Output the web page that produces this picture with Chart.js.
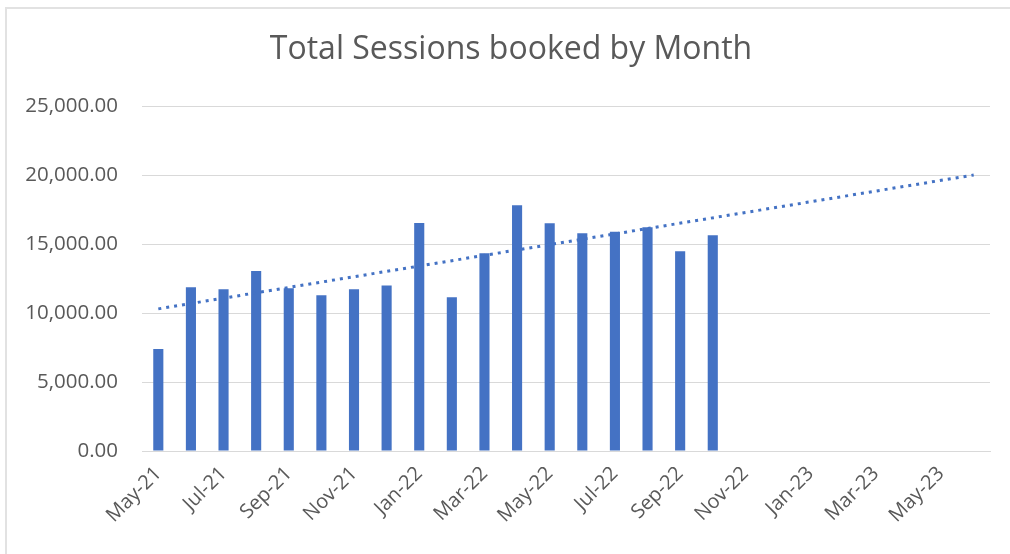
<!DOCTYPE html>
<html>
<head>
<meta charset="utf-8">
<script src="https://cdn.jsdelivr.net/npm/chart.js@4"></script>
<style>
  html, body { margin: 0; padding: 0; background: #fff; }
  #wrap { position: relative; width: 1010px; height: 554px; }
  #frame { position: absolute; left: 5px; top: 7px; right: 0; bottom: 0;
           border-left: 2px solid #e2e2e2; border-top: 2px solid #e2e2e2; }
  #title { position: absolute; left: 12px; right: 0; top: 28px; text-align: center;
           font: 32px 'Open Sans', sans-serif; line-height: 38px; color: #595959; }
  canvas { position: absolute; left: 0; top: 0; }
</style>
</head>
<body>
<div id="wrap">
  <div id="frame"></div>
  <canvas id="chart" width="1010" height="554"></canvas>
  <div id="title">Total Sessions booked by Month</div>
</div>
<script>
// months on the axis, May-21 .. Jun-23
const months = [
  'May-21', 'Jun-21', 'Jul-21', 'Aug-21', 'Sep-21', 'Oct-21', 'Nov-21', 'Dec-21',
  'Jan-22', 'Feb-22', 'Mar-22', 'Apr-22', 'May-22', 'Jun-22', 'Jul-22', 'Aug-22',
  'Sep-22', 'Oct-22', 'Nov-22', 'Dec-22', 'Jan-23', 'Feb-23', 'Mar-23', 'Apr-23',
  'May-23', 'Jun-23'
];

// sessions booked, May-21 .. Oct-22
const sessions = [
  7400, 11860, 11720, 13040, 11790, 11280, 11720, 12000, 16520,
  11140, 14330, 17800, 16500, 15780, 15890, 16210, 14470, 15630
];

// linear trend, first and last month
const trendStart = 10300;
const trendEnd = 20000;

const yTicks = [0, 5000, 10000, 15000, 20000, 25000];

const barData = months.map((m, i) => i < sessions.length ? sessions[i] : null);
const trendData = months.map((m, i) => i === 0 ? trendStart : (i === months.length - 1 ? trendEnd : null));

const blue = '#4472C4';
const grey = '#595959';
const font = "'Open Sans', sans-serif";

new Chart(document.getElementById('chart'), {
  type: 'bar',
  data: {
    labels: months,
    datasets: [
      {
        type: 'line',
        data: trendData,
        spanGaps: true,
        borderColor: blue,
        borderWidth: 3,
        borderDash: [3, 5],
        pointRadius: 0,
        order: 0
      },
      {
        data: barData,
        backgroundColor: blue,
        categoryPercentage: 1,
        barPercentage: 0.31,
        order: 1
      }
    ]
  },
  options: {
    responsive: false,
    animation: false,
    layout: { padding: { left: 10, right: 20, top: 106, bottom: 0 } },
    plugins: {
      legend: { display: false },
      tooltip: { enabled: false },
      title: { display: false }
    },
    scales: {
      x: {
        grid: { display: false },
        border: { color: '#d9d9d9' },
        ticks: {
          autoSkip: false,
          minRotation: 45,
          maxRotation: 45,
          color: grey,
          font: { family: font, size: 20 },
          callback: (v, i) => i % 2 === 0 ? months[i] : ''
        },
        afterFit: s => { s.height = 103; }
      },
      y: {
        min: 0,
        max: 25000,
        afterBuildTicks: s => { s.ticks = yTicks.map(v => ({ value: v })); },
        grid: { color: '#d9d9d9', drawTicks: false },
        border: { display: false },
        ticks: {
          color: grey,
          padding: 24,
          font: { family: font, size: 20.5 },
          callback: v => v.toLocaleString('en-US', { minimumFractionDigits: 2, maximumFractionDigits: 2 })
        },
        afterFit: s => { s.width = 132; }
      }
    }
  }
});
</script>
</body>
</html>
